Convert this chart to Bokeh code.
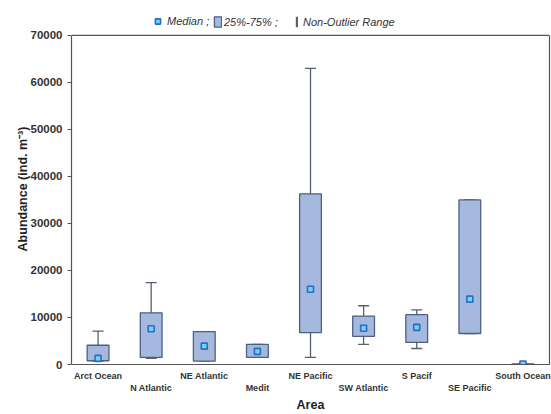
from bokeh.plotting import figure
from bokeh.models import (ColumnDataSource, FactorRange, Whisker, TeeHead, Legend,
                          LegendItem, FixedTicker, CategoricalAxis, LinearAxis, Span)
from bokeh.embed import file_html
from bokeh.resources import INLINE

areas = ["Arct Ocean", "N Atlantic", "NE Atlantic", "Medit", "NE Pacific",
         "SW Atlantic", "S Pacif", "SE Pacific", "South Ocean"]
median = [1300, 7600, 3900, 2800, 16000, 7700, 7900, 13900, 100]
q25 = [800, 1500, 700, 1500, 6800, 6000, 4700, 6600, 60]
q75 = [4100, 11000, 7000, 4300, 36300, 10300, 10600, 35000, 140]
wlo = [700, 1300, 700, 1500, 1500, 4300, 3400, 6600, 60]
whi = [7100, 17400, 7000, 4300, 63000, 12500, 11600, 35000, 140]
y_ticks = [0, 10000, 20000, 30000, 40000, 50000, 60000, 70000]
y_max = 70000

src = ColumnDataSource(dict(area=areas, median=median, q25=q25, q75=q75,
                            wlo=wlo, whi=whi))

FONT = "Liberation Sans"
WCOL = "#556070"
FRAME = "#555555"
# the range extends above 70000 to leave room for the key inside the frame
p = figure(width=551, height=414, x_range=FactorRange(*areas), y_range=(0, y_max * 1.0667),
           output_backend="svg", toolbar_location=None, x_axis_location=None,
           min_border_left=71, min_border_right=2, min_border_bottom=49,
           min_border_top=13)
p.xgrid.visible = False
p.ygrid.visible = False
p.outline_line_color = None
p.background_fill_color = "white"
p.border_fill_color = "white"

# whisker stems (under the boxes)
p.segment(x0="area", y0="wlo", x1="area", y1="whi", source=src,
          line_color=WCOL, line_width=1.3)
box = p.vbar(x="area", bottom="q25", top="q75", width=0.41, source=src,
             fill_color="#a4b9dd", line_color="#4d5f85", line_width=1.3)
wh = Whisker(source=src, base="area", lower="wlo", upper="whi", line_color=None,
             upper_head=TeeHead(size=11, line_color=WCOL, line_width=1.3),
             lower_head=TeeHead(size=11, line_color=WCOL, line_width=1.3))
p.add_layout(wh)
med = p.scatter(x="area", y="median", source=src, marker="square", size=6,
                fill_color="#72d2f5", line_color="#2b6cc4", line_width=1.6)
stem = p.vbar(x=[areas[0]], bottom=[-9000], top=[-8000], width=0.01,
              fill_color=WCOL, line_color=None)

# top border of the plot box at 70000
p.add_layout(Span(location=y_max, dimension="width", line_color=FRAME, line_width=1.2))


def mk_legend(label, rend, x, gw, gh, standoff):
    return Legend(items=[LegendItem(label=label, renderers=[rend])],
                  orientation="horizontal", location=(x, 336),
                  glyph_width=gw, glyph_height=gh, label_standoff=standoff,
                  label_height=12, padding=0, margin=0, border_line_color=None,
                  background_fill_alpha=0,
                  label_text_font=FONT, label_text_font_style="italic",
                  label_text_font_size="11px", label_text_color="#333333")


p.add_layout(mk_legend("Median ;", med, 80, 13, 14, 3))
p.add_layout(mk_legend("25%-75% ;", box, 142, 9, 13, 2))
p.add_layout(mk_legend("Non-Outlier Range", stem, 224, 3, 13, 5))

# y axis
p.yaxis.ticker = FixedTicker(ticks=y_ticks)
p.yaxis.bounds = (0, y_max)
p.yaxis.axis_label = "Abundance (ind. m\u207b\u00b3)"
p.yaxis.axis_label_text_font = FONT
p.yaxis.axis_label_text_font_style = "bold"
p.yaxis.axis_label_text_font_size = "12.5px"
p.yaxis.axis_label_text_color = "#222222"
p.yaxis.axis_label_standoff = -2
p.yaxis.major_label_text_font = FONT
p.yaxis.major_label_text_font_style = "bold"
p.yaxis.major_label_text_font_size = "11.5px"
p.yaxis.major_label_text_color = "#333333"
p.yaxis.minor_tick_line_color = None
p.yaxis.major_tick_out = 4
p.yaxis.major_tick_in = 0
p.yaxis.axis_line_color = FRAME
p.yaxis.axis_line_width = 1.2
p.yaxis.major_tick_line_color = FRAME

# right border of the plot box
rax = LinearAxis(ticker=FixedTicker(ticks=[]), bounds=(0, y_max), axis_line_color=FRAME,
                 axis_line_width=1.2, major_tick_line_color=None,
                 minor_tick_line_color=None, major_label_text_font_size="0px")
p.add_layout(rax, "right")

# x axes: staggered labels (even on first row, odd on second)
even = [a if i % 2 == 0 else " " * (i + 1) for i, a in enumerate(areas)]
odd = [a if i % 2 == 1 else " " * (i + 1) for i, a in enumerate(areas)]
p.extra_x_ranges = {"even": FactorRange(*even), "odd": FactorRange(*odd)}
ax1 = CategoricalAxis(x_range_name="even")
ax2 = CategoricalAxis(x_range_name="odd", axis_label="Area")
for ax in (ax1, ax2):
    ax.major_label_text_font = FONT
    ax.major_label_text_font_style = "bold"
    ax.major_label_text_font_size = "9px"
    ax.major_label_text_color = "#333333"
    ax.major_tick_line_color = None
    ax.minor_tick_line_color = None
    ax.major_tick_out = 0
    ax.major_tick_in = 0
ax1.axis_line_color = FRAME
ax1.axis_line_width = 1.2
ax1.major_label_standoff = 6
ax2.axis_line_color = None
ax2.major_label_standoff = -1
ax2.axis_label_text_font = FONT
ax2.axis_label_text_font_style = "bold"
ax2.axis_label_text_font_size = "12.5px"
ax2.axis_label_text_color = "#222222"
ax2.axis_label_standoff = 2
p.add_layout(ax1, "below")
p.add_layout(ax2, "below")

open("out.html", "w").write(file_html(p, INLINE))
